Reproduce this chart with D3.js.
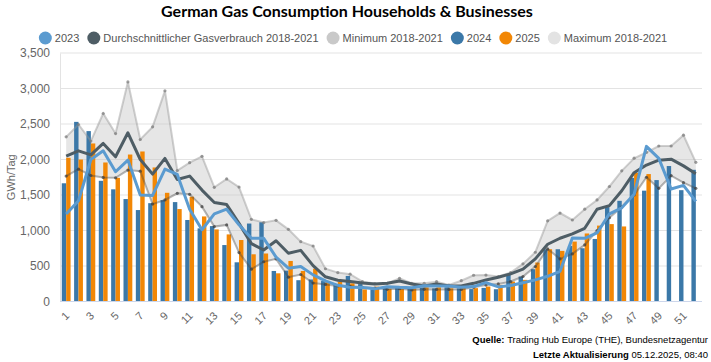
<!DOCTYPE html>
<html>
<head>
<meta charset="utf-8">
<script src="https://cdn.jsdelivr.net/npm/d3@7"></script>
<style>
  body { margin: 0; background: #fff; }
  text { font-family: "Liberation Sans", Arial, sans-serif; }
</style>
</head>
<body>
<div id="chart"></div>
<script>
// week numbers (categories)
var weeks = [1,2,3,4,5,6,7,8,9,10,11,12,13,14,15,16,17,18,19,20,21,22,23,24,25,26,
  27,28,29,30,31,32,33,34,35,36,37,38,39,40,41,42,43,44,45,46,47,48,49,50,51,52];
var xTickLabels = [1,3,5,7,9,11,13,15,17,19,21,23,25,27,29,31,33,35,37,39,41,43,45,47,49,51];
var yTicks = [0,500,1000,1500,2000,2500,3000,3500];

// GWh/Tag
var y2024 = [1665,2530,2400,1700,1580,1443,1288,1385,1428,1400,1148,1030,1062,795,552,1098,1117,430,435,300,
  310,288,246,360,246,171,195,200,190,195,185,200,185,175,192,173,375,352,455,736,736,783,750,881,1330,1418,
  1740,1561,1710,1908,1568,1855];
var y2025 = [2024,2000,2226,1958,1742,2070,2113,1888,1531,1302,1476,1198,1015,945,866,665,676,397,571,430,
  462,279,279,256,171,209,180,175,185,200,200,185,195,188,211,234,281,305,549,736,713,844,958,1069,1090,1057,
  1812,1795];
var y2023 = [1231,1419,2000,2122,1827,1992,1500,1494,1865,1790,1300,1010,1235,1300,1080,890,890,625,469,492,
  375,290,228,200,197,178,207,199,195,223,218,220,200,210,265,205,225,265,305,355,425,895,890,965,1235,1320,
  1510,2185,2015,1585,1635,1410];
var avg1821 = [2047,2122,2066,2226,2038,2376,2000,1794,2015,1719,1766,1569,1395,1365,1100,815,725,855,680,720,
  505,348,300,282,260,248,256,288,246,218,246,218,218,256,303,342,389,455,600,806,891,952,1031,1299,1350,1560,
  1814,1922,1990,2005,1910,1800];
var min1821 = [1766,1864,1775,1747,1742,1851,1836,1372,1430,1524,1510,1336,1055,1078,689,455,560,600,342,380,
  260,240,220,215,200,190,171,180,162,171,170,170,170,200,232,248,281,352,492,740,600,670,797,1000,1180,1330,
  1500,1750,1594,1772,1674,1594];
var max1821 = [2319,2493,2260,2648,2366,3093,2282,2460,2967,1845,1955,2045,1608,1727,1612,1157,1112,1143,1016,843,
  782,461,407,385,280,252,256,326,256,256,279,232,293,370,372,352,408,530,694,1136,1246,1148,1300,1430,1620,1840,
  2018,2100,2190,2190,2342,1960];

var legendItems = [
  {name: "2023", color: "#5b9bd0"},
  {name: "Durchschnittlicher Gasverbrauch 2018-2021", color: "#4e5d65"},
  {name: "Minimum 2018-2021", color: "#c9c9c9"},
  {name: "2024", color: "#3b78a8"},
  {name: "2025", color: "#f28705"},
  {name: "Maximum 2018-2021", color: "#e3e3e3"}
];

var fullWidth = 711, fullHeight = 362;
var margin = {top: 53, right: 9, bottom: 60.5, left: 60};
var width = fullWidth - margin.left - margin.right;
var height = fullHeight - margin.top - margin.bottom;

var svg = d3.select("#chart").append("svg")
  .attr("width", fullWidth)
  .attr("height", fullHeight);

var g = svg.append("g")
  .attr("transform", "translate(" + margin.left + "," + margin.top + ")");

var x0 = d3.scaleBand().domain(weeks).range([0, width]).padding(0);
var x1 = d3.scaleBand().domain(["2024", "2025"]).range([0, x0.bandwidth()])
  .paddingInner(0).paddingOuter(0.4);
var y = d3.scaleLinear().domain([0, 3500]).range([height, 0]);
var cx = function(i) { return x0(weeks[i]) + x0.bandwidth() / 2; };

// grid
g.append("g")
  .selectAll("line")
  .data(yTicks)
  .enter().append("line")
  .attr("x1", 0).attr("x2", width)
  .attr("y1", function(d) { return y(d); })
  .attr("y2", function(d) { return y(d); })
  .attr("stroke", "#e3e3e3");

var yAxis = g.append("g")
  .call(d3.axisLeft(y).tickValues(yTicks).tickFormat(d3.format(",")).tickSize(0).tickPadding(10));
yAxis.select(".domain").attr("stroke", "#e3e3e3");
yAxis.selectAll("text").attr("fill", "#666").style("font-size", "12px");

// min/max band
var band = d3.area()
  .x(function(d, i) { return cx(i); })
  .y0(function(d, i) { return y(min1821[i]); })
  .y1(function(d) { return y(d); });
g.append("path")
  .datum(max1821)
  .attr("d", band)
  .attr("fill", "rgba(195,195,195,0.42)");

// bars
var bars = g.append("g");
bars.selectAll(".b24")
  .data(y2024)
  .enter().append("rect")
  .attr("x", function(d, i) { return x0(weeks[i]) + x1("2024"); })
  .attr("y", function(d) { return y(d); })
  .attr("width", x1.bandwidth())
  .attr("height", function(d) { return height - y(d); })
  .attr("fill", "#3b78a8");
bars.selectAll(".b25")
  .data(y2025)
  .enter().append("rect")
  .attr("x", function(d, i) { return x0(weeks[i]) + x1("2025"); })
  .attr("y", function(d) { return y(d); })
  .attr("width", x1.bandwidth())
  .attr("height", function(d) { return height - y(d); })
  .attr("fill", "#f28705");

var line = d3.line()
  .x(function(d, i) { return cx(i); })
  .y(function(d) { return y(d); });

function drawRange(data, stroke, dot) {
  g.append("path").datum(data)
    .attr("d", line)
    .attr("fill", "none")
    .attr("stroke", stroke)
    .attr("stroke-width", 2);
  g.append("g").selectAll("circle")
    .data(data)
    .enter().append("circle")
    .attr("cx", function(d, i) { return cx(i); })
    .attr("cy", function(d) { return y(d); })
    .attr("r", 1.6)
    .attr("fill", dot);
}
drawRange(max1821, "rgba(150,150,150,0.45)", "rgba(120,120,120,0.7)");
drawRange(min1821, "rgba(70,70,70,0.4)", "rgba(60,60,60,0.7)");

g.append("path").datum(avg1821)
  .attr("d", line)
  .attr("fill", "none")
  .attr("stroke", "#4e5d65")
  .attr("stroke-width", 3)
  .attr("stroke-linejoin", "round");

g.append("path").datum(y2023)
  .attr("d", line)
  .attr("fill", "none")
  .attr("stroke", "#5b9bd0")
  .attr("stroke-width", 3)
  .attr("stroke-linejoin", "round");

// x axis
g.append("line")
  .attr("x1", 0).attr("x2", width)
  .attr("y1", height).attr("y2", height)
  .attr("stroke", "#ccd6eb");

g.append("g").selectAll("text")
  .data(xTickLabels)
  .enter().append("text")
  .attr("transform", function(d) {
    return "translate(" + (x0(d) + x0.bandwidth() / 2 + 4) + "," + (height + 15) + ") rotate(-45)";
  })
  .attr("text-anchor", "end")
  .attr("fill", "#666")
  .style("font-size", "11px")
  .text(function(d) { return d; });

// y label
svg.append("text")
  .attr("transform", "translate(15," + (margin.top + height / 2) + ") rotate(-90)")
  .attr("text-anchor", "middle")
  .attr("fill", "#666")
  .style("font-size", "11px")
  .text("GWh/Tag");

// title
svg.append("text")
  .attr("x", 347).attr("y", 17)
  .attr("text-anchor", "middle")
  .style("font-family", "Lato, sans-serif")
  .style("font-weight", "bold")
  .style("font-size", "16px")
  .attr("fill", "#000")
  .text("German Gas Consumption Households & Businesses");

// legend
var legend = svg.append("g");
var lx = 0;
legendItems.forEach(function(item) {
  var it = legend.append("g").attr("transform", "translate(" + lx + ",0)");
  it.append("circle").attr("cx", 6.5).attr("cy", 0).attr("r", 6.5).attr("fill", item.color);
  var t = it.append("text").attr("x", 16).attr("y", 4)
    .attr("fill", "#555").style("font-size", "11px").text(item.name);
  lx += 16 + t.node().getComputedTextLength() + 8;
});
legend.attr("transform", "translate(" + (357 - lx / 2) + ",38)");

// source notes
var src = svg.append("text")
  .attr("x", 708).attr("y", 343)
  .attr("text-anchor", "end")
  .style("font-family", "'Liberation Sans Narrow', 'Liberation Sans', sans-serif")
  .style("font-size", "9.5px")
  .attr("fill", "#000");
src.append("tspan").style("font-weight", "bold").text("Quelle: ");
src.append("tspan").text("Trading Hub Europe (THE), Bundesnetzagentur");

var upd = svg.append("text")
  .attr("x", 708).attr("y", 358)
  .attr("text-anchor", "end")
  .style("font-family", "'Liberation Sans Narrow', 'Liberation Sans', sans-serif")
  .style("font-size", "9.5px")
  .attr("fill", "#000");
upd.append("tspan").style("font-weight", "bold").text("Letzte Aktualisierung ");
upd.append("tspan").text("05.12.2025, 08:40");
</script>
</body>
</html>
